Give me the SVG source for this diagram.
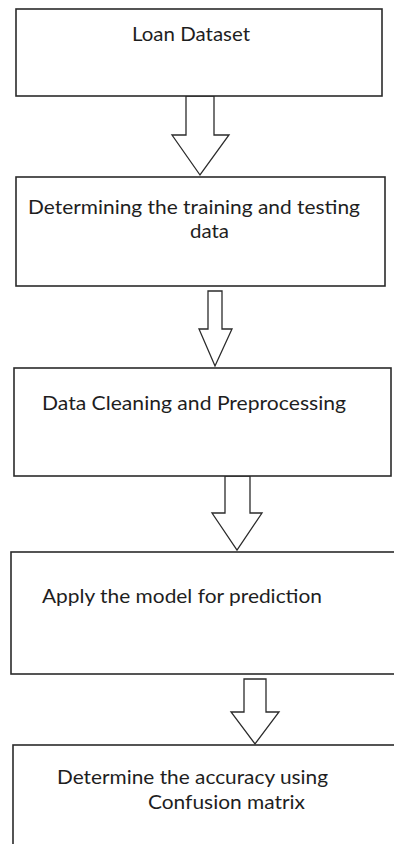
<svg xmlns="http://www.w3.org/2000/svg" width="394" height="844" viewBox="0 0 394 844">
  <defs>
    <style>
      .box { fill: #ffffff; stroke: #2b2b2b; stroke-width: 1.6; }
      .arrow { fill: #ffffff; stroke: #2b2b2b; stroke-width: 1.3; stroke-linejoin: miter; }
      .label { font-family: "Lato", "Open Sans", "Liberation Sans", sans-serif; font-size: 19px; fill: #1e1e1e; }
    </style>
  </defs>
  <rect width="394" height="844" fill="#ffffff"/>

  <!-- block arrows between steps -->
  <g id="connectors">
    <polygon class="arrow" points="186,96 214,96 214,135 229,135 200,175 172,135 186,135"/>
    <polygon class="arrow" points="208,291 222,291 222,329 232,329 215,366 199,329 208,329"/>
    <polygon class="arrow" points="225,476 250,476 250,513 262,513 237,550 212,513 225,513"/>
    <polygon class="arrow" points="244,679 266,679 266,712 279,712 255,744 231,712 244,712"/>
  </g>

  <g id="loan-dataset">
    <rect class="box" x="16" y="9" width="366" height="87"/>
    <text class="label" x="132" y="41" textLength="118" lengthAdjust="spacingAndGlyphs">Loan Dataset</text>
  </g>

  <g id="train-test-split">
    <rect class="box" x="16" y="177" width="369" height="109"/>
    <text class="label" x="28" y="214" textLength="332" lengthAdjust="spacingAndGlyphs">Determining the training and testing</text>
    <text class="label" x="190" y="238" textLength="39" lengthAdjust="spacingAndGlyphs">data</text>
  </g>

  <g id="cleaning">
    <rect class="box" x="14" y="368" width="377" height="108"/>
    <text class="label" x="42" y="410" textLength="304" lengthAdjust="spacingAndGlyphs">Data Cleaning and Preprocessing</text>
  </g>

  <g id="prediction">
    <rect class="box" x="11" y="552" width="400" height="122"/>
    <text class="label" x="42" y="603" textLength="280" lengthAdjust="spacingAndGlyphs">Apply the model for prediction</text>
  </g>

  <g id="accuracy">
    <rect class="box" x="13" y="745" width="400" height="120"/>
    <text class="label" x="57" y="784" textLength="271" lengthAdjust="spacingAndGlyphs">Determine the accuracy using</text>
    <text class="label" x="148" y="809" textLength="157" lengthAdjust="spacingAndGlyphs">Confusion matrix</text>
  </g>
</svg>
